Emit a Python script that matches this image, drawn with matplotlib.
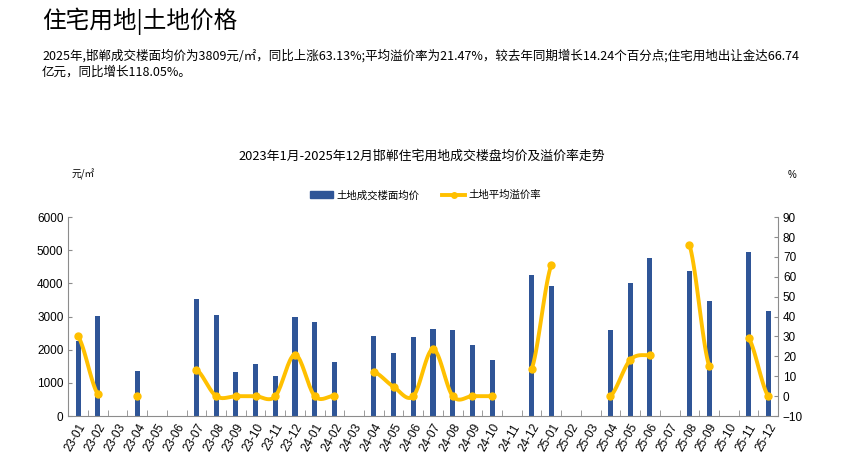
import numpy as np
import matplotlib
matplotlib.use('Agg')
import matplotlib.pyplot as plt
from matplotlib.lines import Line2D
from matplotlib.patches import Patch

plt.rcParams['font.family'] = ['Liberation Sans', 'Noto Sans CJK SC', 'DejaVu Sans']
cjk = ['Noto Sans CJK SC', 'DejaVu Sans']

# data
months = ['23-01', '23-02', '23-03', '23-04', '23-05', '23-06', '23-07', '23-08', '23-09',
          '23-10', '23-11', '23-12', '24-01', '24-02', '24-03', '24-04', '24-05', '24-06',
          '24-07', '24-08', '24-09', '24-10', '24-11', '24-12', '25-01', '25-02', '25-03',
          '25-04', '25-05', '25-06', '25-07', '25-08', '25-09', '25-10', '25-11', '25-12']
price = [2250, 3030, None, 1345, None, None, 3540, 3060, 1314,
         1585, 1195, 3000, 2840, 1625, None, 2408, 1896, 2388,
         2619, 2589, 2137, 1686, None, 4244, 3913, None, None,
         2589, 4003, 4756, None, 4365, 3462, None, 4937, 3161]
rate = [30.0, 1.0, None, 0.0, None, None, 13.4, 0.0, 0.0,
        0.0, 0.0, 20.9, 0.0, 0.3, None, 12.3, 4.7, 0.0,
        23.7, 0.0, 0.0, 0.0, None, 13.6, 66.0, None, None,
        0.0, 18.2, 20.7, None, 76.2, 15.3, None, 29.4, 0.0]

blue = '#2F5597'
gold = '#FFC000'
grey = '#8c8c8c'

fig = plt.figure(figsize=(8.43, 4.68), dpi=100)
fig.text(0.05, 0.955, '住宅用地|土地价格', fontsize=17, family=cjk, weight='light', va='center')
fig.text(0.05, 0.880, '2025年,邯郸成交楼面均价为3809元/㎡，同比上涨63.13%;平均溢价率为21.47%，较去年同期增长14.24个百分点;住宅用地出让金达66.74',
         fontsize=9, family=cjk, va='center')
fig.text(0.05, 0.845, '亿元，同比增长118.05%。', fontsize=9, family=cjk, va='center')

ax = fig.add_axes([0.081, 0.111, 0.842, 0.425])
x = np.arange(len(months))
bx = [i for i in x if price[i] is not None]
ax.bar(bx, [price[i] for i in bx], width=0.26, color=blue, zorder=2)
ax.set_xlim(-0.5, len(months) - 0.5)
ax.set_ylim(0, 6000)
ax.set_yticks(range(0, 6001, 1000))
ax.set_xticks(x)
ax.set_xticklabels(months, rotation=60, ha='right', rotation_mode='anchor', fontsize=8.5)
ax.set_xticks(np.arange(-0.5, len(months), 1), minor=True)
ax.tick_params(axis='x', which='major', length=0, pad=4)
ax.tick_params(axis='x', which='minor', length=4, direction='in', color=grey)
ax.tick_params(axis='y', direction='in', length=3, color=grey, labelsize=8.5)
for s in ['top', 'right']:
    ax.spines[s].set_visible(False)
for s in ['left', 'bottom']:
    ax.spines[s].set_color(grey)

ax2 = ax.twinx()
ax2.set_ylim(-10, 90)
ax2.set_yticks(range(-10, 91, 10))
ax2.tick_params(axis='y', direction='in', length=3, color=grey, labelsize=8.5)
for s in ['top', 'left', 'bottom']:
    ax2.spines[s].set_visible(False)
ax2.spines['right'].set_color(grey)


def smooth(xs, ys, n=20):
    # catmull-rom style smoothing like Excel
    if len(xs) < 2:
        return np.array(xs, float), np.array(ys, float)
    px = np.array(xs, float)
    py = np.array(ys, float)
    ex = np.concatenate([[2 * px[0] - px[1]], px, [2 * px[-1] - px[-2]]])
    ey = np.concatenate([[py[0]], py, [py[-1]]])
    outx, outy = [], []
    for i in range(1, len(ex) - 2):
        t = np.linspace(0, 1, n)
        for arr, out in ((ex, outx), (ey, outy)):
            p0, p1, p2, p3 = arr[i - 1], arr[i], arr[i + 1], arr[i + 2]
            out.extend(0.5 * ((2 * p1) + (-p0 + p2) * t + (2 * p0 - 5 * p1 + 4 * p2 - p3) * t ** 2
                              + (-p0 + 3 * p1 - 3 * p2 + p3) * t ** 3))
    return np.array(outx), np.array(outy)


seg = []
for i in range(len(months) + 1):
    if i < len(months) and rate[i] is not None:
        seg.append(i)
    else:
        if seg:
            sx, sy = smooth(seg, [rate[j] for j in seg])
            ax2.plot(sx, sy, color=gold, lw=2.8, zorder=3, solid_capstyle='round')
            ax2.plot(seg, [rate[j] for j in seg], 'o', color=gold, ms=5, zorder=4)
        seg = []

fig.text(0.5, 0.665, '2023年1月-2025年12月邯郸住宅用地成交楼盘均价及溢价率走势', fontsize=9.3,
         family=cjk, ha='center', va='center')
fig.text(0.085, 0.627, '元/㎡', fontsize=7, family=cjk, ha='left', va='center')
fig.text(0.940, 0.627, '%', fontsize=7, ha='center', va='center')

handles = [Patch(color=blue), Line2D([0], [0], color=gold, lw=2.8, marker='o', ms=4)]
fig.legend(handles, ['土地成交楼面均价', '土地平均溢价率'], loc='center', bbox_to_anchor=(0.505, 0.583),
           ncol=2, frameon=False, prop={'family': cjk, 'size': 7.5}, handlelength=2.2,
           handletextpad=0.3, columnspacing=2.2)

fig.savefig('out.png', dpi=100)
